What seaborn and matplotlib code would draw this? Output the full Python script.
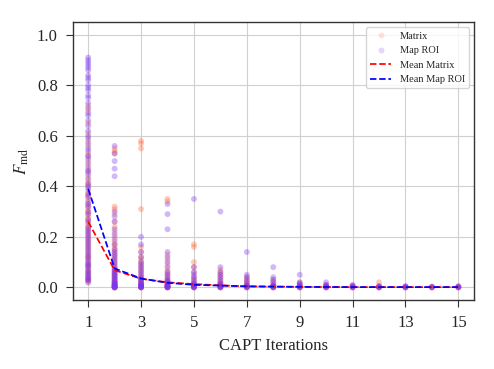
import pandas as pd
import matplotlib.pyplot as plt
import seaborn as sns

# ---------------------------------
# Values
# ---------------------------------

iterations = list(range(1, 16))

matrix_points = {
    1: [0.02, 0.03, 0.03, 0.04, 0.05, 0.05, 0.06, 0.07, 0.08, 0.08, 0.09, 0.10,
        0.11, 0.12, 0.12, 0.13, 0.14, 0.15, 0.16, 0.17, 0.18, 0.19, 0.20, 0.21,
        0.22, 0.23, 0.24, 0.25, 0.26, 0.27, 0.28, 0.29, 0.30, 0.31, 0.32, 0.33,
        0.35, 0.36, 0.37, 0.38, 0.40, 0.41, 0.42, 0.44, 0.46, 0.48, 0.50, 0.52,
        0.53, 0.56, 0.58, 0.61, 0.65, 0.70, 0.72],
    2: [0.0, 0.0, 0.0, 0.002, 0.004, 0.006, 0.008, 0.01, 0.012, 0.015, 0.02,
        0.02, 0.025, 0.03, 0.035, 0.04, 0.045, 0.05, 0.055, 0.06, 0.07, 0.075,
        0.08, 0.09, 0.10, 0.11, 0.12, 0.13, 0.14, 0.15, 0.16, 0.17, 0.18, 0.20,
        0.22, 0.24, 0.26, 0.29, 0.31, 0.32, 0.53, 0.54, 0.55],
    3: [0.0, 0.0, 0.002, 0.004, 0.006, 0.008, 0.01, 0.012, 0.015, 0.02, 0.025,
        0.03, 0.035, 0.04, 0.05, 0.06, 0.07, 0.08, 0.09, 0.10, 0.11, 0.12,
        0.14, 0.16, 0.31, 0.55, 0.57, 0.58],
    4: [0.0, 0.0, 0.002, 0.004, 0.006, 0.008, 0.01, 0.015, 0.02, 0.025, 0.03,
        0.04, 0.05, 0.06, 0.07, 0.09, 0.11, 0.13, 0.34, 0.35],
    5: [0.0, 0.0, 0.002, 0.004, 0.006, 0.01, 0.015, 0.02, 0.03, 0.04, 0.06,
        0.08, 0.10, 0.16, 0.17],
    6: [0.0, 0.0, 0.002, 0.005, 0.01, 0.015, 0.02, 0.03, 0.04, 0.05, 0.06,
        0.07],
    7: [0.0, 0.0, 0.003, 0.006, 0.01, 0.015, 0.02, 0.03, 0.04],
    8: [0.0, 0.0, 0.003, 0.006, 0.01, 0.02, 0.03],
    9: [0.0, 0.0, 0.003, 0.006, 0.01, 0.02],
    10: [0.0, 0.0, 0.003, 0.006, 0.01],
    11: [0.0, 0.0, 0.003, 0.005],
    12: [0.0, 0.0, 0.003, 0.005, 0.02],
    13: [0.0, 0.0, 0.003],
    14: [0.0, 0.0, 0.003],
    15: [0.0, 0.0, 0.003],
}

roi_points = {
    1: [0.02, 0.03, 0.03, 0.04, 0.04, 0.05, 0.06, 0.06, 0.07, 0.08, 0.09, 0.09,
        0.10, 0.11, 0.12, 0.13, 0.14, 0.15, 0.16, 0.17, 0.18, 0.19, 0.20, 0.21,
        0.22, 0.23, 0.24, 0.26, 0.27, 0.29, 0.30, 0.32, 0.33, 0.34, 0.36, 0.37,
        0.39, 0.40, 0.41, 0.43, 0.45, 0.46, 0.47, 0.49, 0.51, 0.52, 0.54, 0.55,
        0.57, 0.59, 0.60, 0.62, 0.64, 0.66, 0.68, 0.69, 0.71, 0.73, 0.75, 0.76,
        0.78, 0.79, 0.80, 0.82, 0.83, 0.84, 0.86, 0.87, 0.88, 0.89, 0.90, 0.91],
    2: [0.0, 0.0, 0.0, 0.002, 0.004, 0.006, 0.008, 0.01, 0.012, 0.015, 0.018,
        0.02, 0.025, 0.03, 0.035, 0.04, 0.045, 0.05, 0.055, 0.06, 0.065, 0.07,
        0.08, 0.09, 0.10, 0.11, 0.12, 0.13, 0.14, 0.15, 0.17, 0.19, 0.21, 0.23,
        0.26, 0.28, 0.30, 0.44, 0.47, 0.50, 0.53, 0.56],
    3: [0.0, 0.0, 0.0, 0.002, 0.004, 0.006, 0.008, 0.01, 0.012, 0.015, 0.02,
        0.025, 0.03, 0.035, 0.04, 0.05, 0.06, 0.07, 0.08, 0.09, 0.10, 0.12,
        0.14, 0.17, 0.20],
    4: [0.0, 0.0, 0.0, 0.002, 0.004, 0.006, 0.008, 0.01, 0.015, 0.02, 0.025,
        0.03, 0.04, 0.05, 0.06, 0.08, 0.10, 0.12, 0.14, 0.23, 0.29, 0.33],
    5: [0.0, 0.0, 0.002, 0.004, 0.006, 0.01, 0.015, 0.02, 0.03, 0.04, 0.05,
        0.06, 0.08, 0.35],
    6: [0.0, 0.0, 0.002, 0.004, 0.006, 0.01, 0.015, 0.02, 0.03, 0.04, 0.05,
        0.06, 0.08, 0.30],
    7: [0.0, 0.0, 0.003, 0.006, 0.01, 0.02, 0.03, 0.04, 0.05, 0.14],
    8: [0.0, 0.0, 0.003, 0.006, 0.01, 0.02, 0.03, 0.04, 0.08],
    9: [0.0, 0.0, 0.003, 0.006, 0.01, 0.015, 0.02, 0.05],
    10: [0.0, 0.0, 0.003, 0.006, 0.01, 0.02],
    11: [0.0, 0.0, 0.003, 0.006, 0.01],
    12: [0.0, 0.0, 0.003, 0.005],
    13: [0.0, 0.0, 0.003, 0.005],
    14: [0.0, 0.0, 0.003],
    15: [0.0, 0.0, 0.003, 0.005],
}

mean_matrix = [0.26, 0.068, 0.034, 0.02, 0.013, 0.008, 0.004, 0.003, 0.002,
               0.0015, 0.001, 0.001, 0.001, 0.001, 0.001]
mean_roi = [0.39, 0.075, 0.035, 0.018, 0.01, 0.007, 0.004, 0.003, 0.002,
            0.0015, 0.001, 0.001, 0.001, 0.001, 0.001]

# ---------------------------------
# Build Long DataFrames
# ---------------------------------

rows = []
for it, vals in matrix_points.items():
    for v in vals:
        rows.append({"iteration": it, "value": v, "series": "Matrix"})
for it, vals in roi_points.items():
    for v in vals:
        rows.append({"iteration": it, "value": v, "series": "Map ROI"})
points = pd.DataFrame(rows)

means = pd.DataFrame({
    "iteration": iterations * 2,
    "value": mean_matrix + mean_roi,
    "series": ["Mean Matrix"] * 15 + ["Mean Map ROI"] * 15,
})

# ---------------------------------
# Style
# ---------------------------------

sns.set_style("whitegrid", {
    "axes.edgecolor": "#333333",
    "grid.color": "#d0d0d0",
    "xtick.bottom": True,
    "ytick.left": True,
})
plt.rcParams["font.family"] = ["Liberation Serif", "DejaVu Serif"]
plt.rcParams["mathtext.fontset"] = "stix"

fig, ax = plt.subplots(figsize=(4.94, 3.69), dpi=100)

sns.scatterplot(
    data=points,
    x="iteration",
    y="value",
    hue="series",
    palette={"Matrix": "#ff6a3d", "Map ROI": "#7a35f0"},
    alpha=0.35,
    s=18,
    edgecolor="none",
    ax=ax,
)

sns.lineplot(
    data=means,
    x="iteration",
    y="value",
    hue="series",
    palette={"Mean Matrix": "red", "Mean Map ROI": "blue"},
    linestyle="--",
    linewidth=1.25,
    ax=ax,
)

ax.set_xticks([1, 3, 5, 7, 9, 11, 13, 15])
ax.set_xlim(0.43, 15.6)
ax.set_ylim(-0.05, 1.05)
ax.tick_params(labelsize=12, length=5, pad=6, color="#333333")
ax.set_xlabel("CAPT Iterations", fontsize=12, labelpad=5)
ax.set_ylabel(r"$F_{\mathrm{md}}$", fontsize=12, labelpad=4)

for spine in ax.spines.values():
    spine.set_linewidth(1.0)

handles, labels = ax.get_legend_handles_labels()
for h in handles[:2]:
    h.set_alpha(0.2)
ax.legend(handles, labels, loc="upper right", fontsize=7.5, frameon=True)

fig.subplots_adjust(left=0.148, right=0.96, top=0.94, bottom=0.187)
plt.savefig("out.png", dpi=100)
